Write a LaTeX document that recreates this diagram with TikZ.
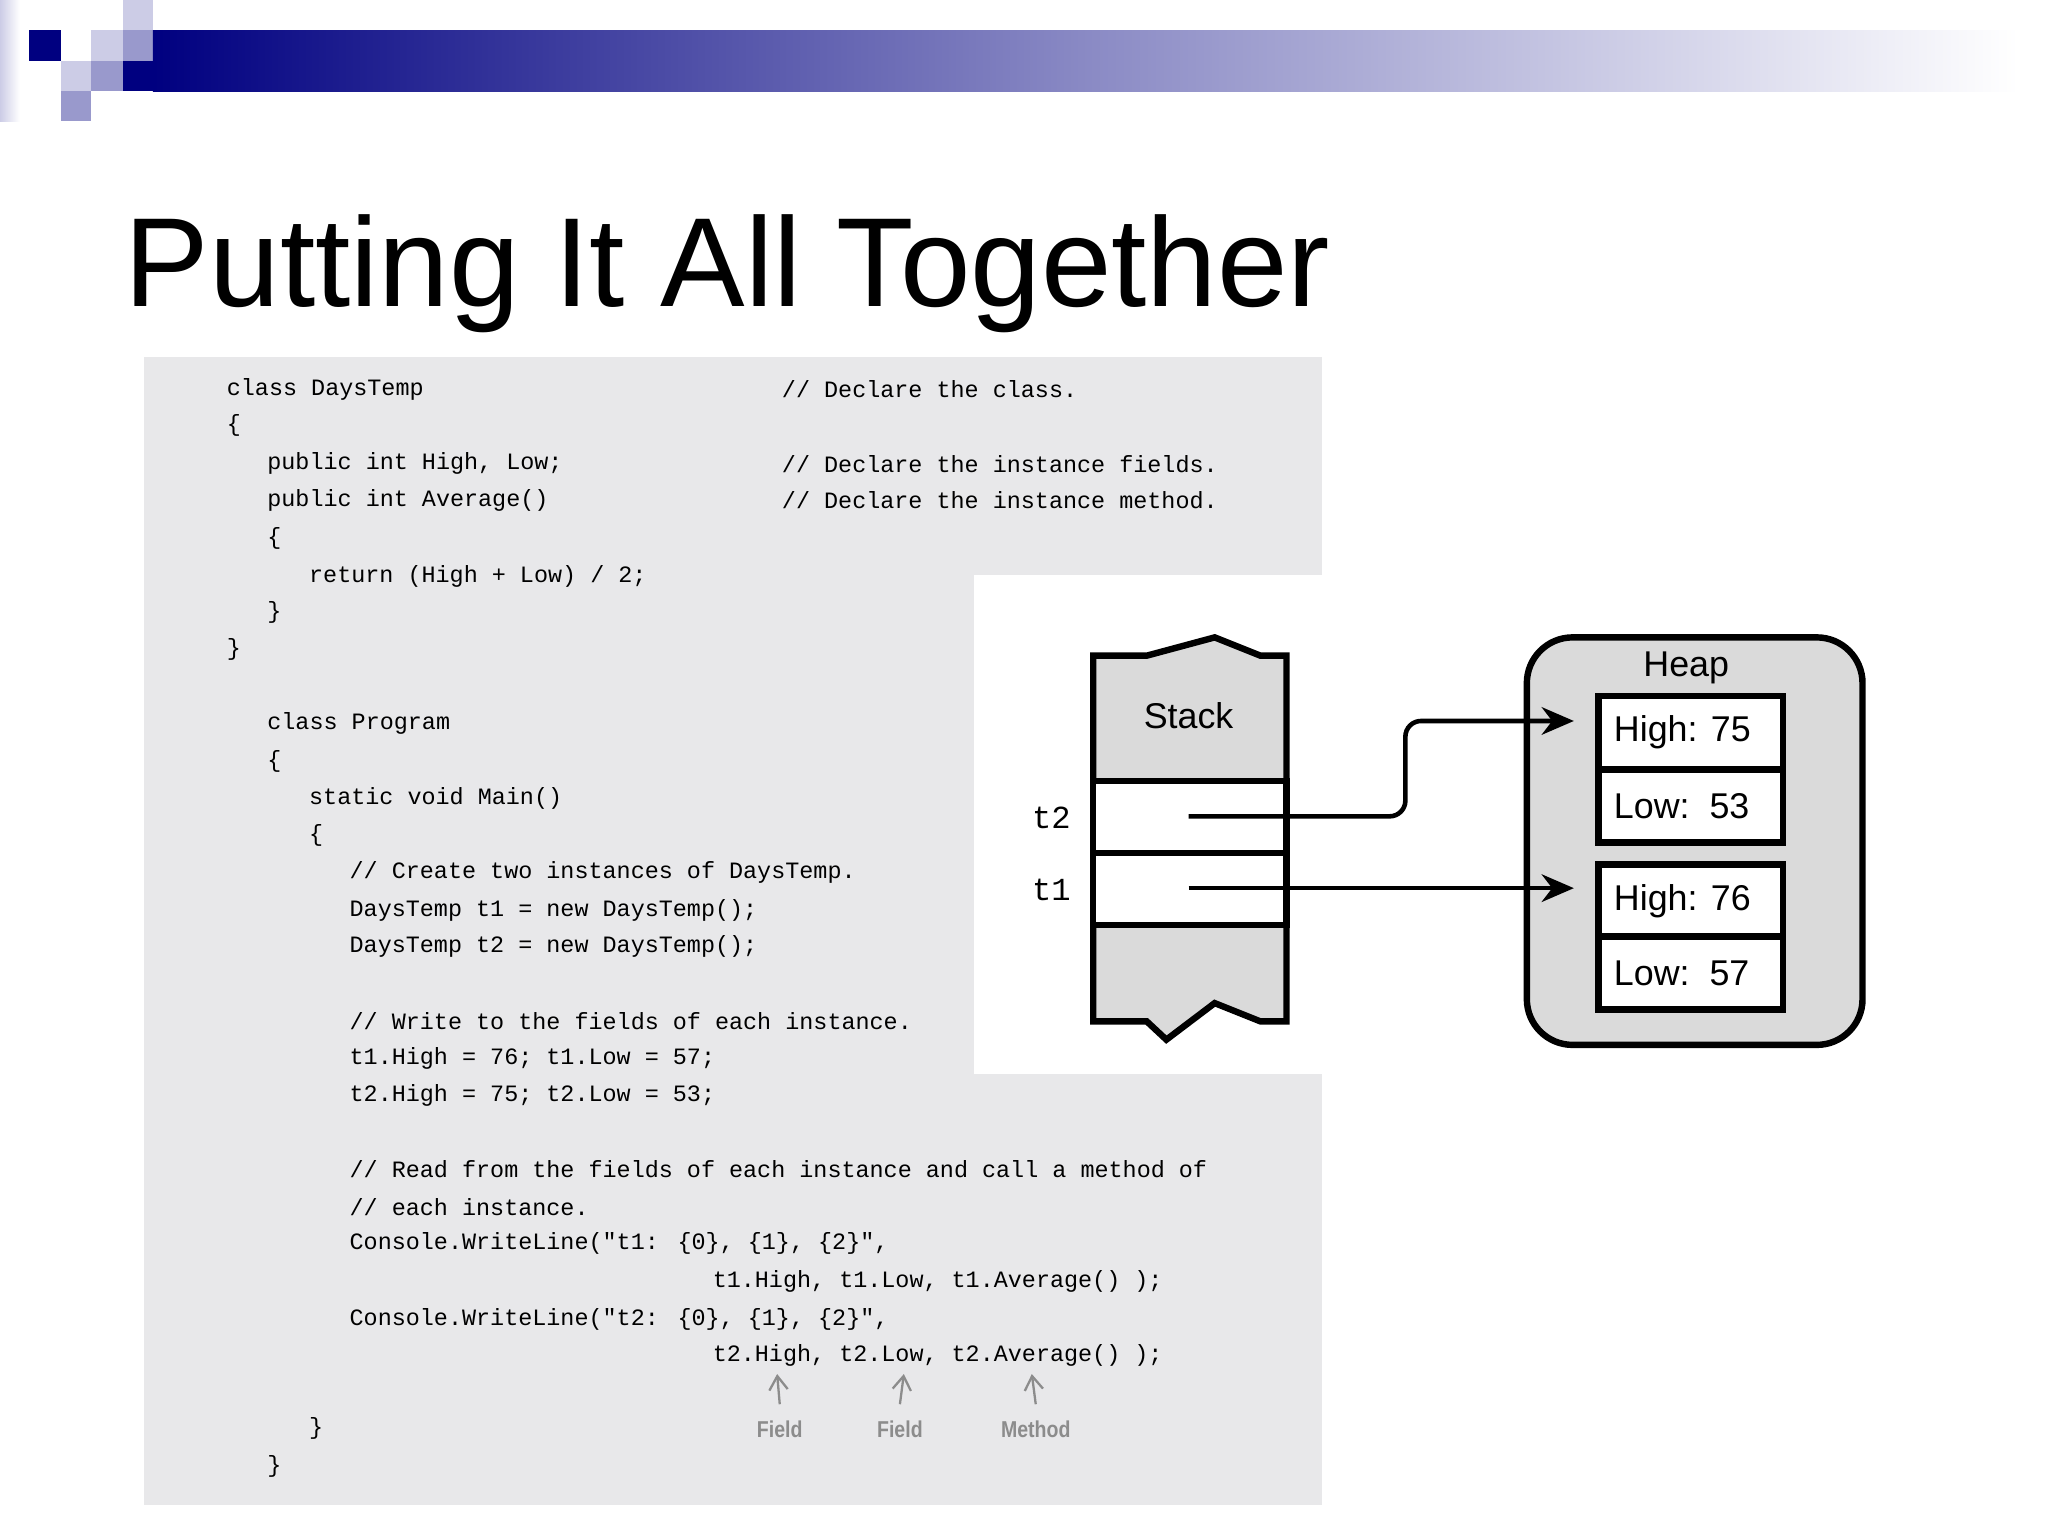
\documentclass[tikz,border=0pt]{standalone}
\usepackage{fontspec}
\setmainfont{Liberation Sans}
\newfontfamily\codefont{Liberation Mono}
\usetikzlibrary{arrows.meta}
\definecolor{navy}{RGB}{0,0,128}
\definecolor{lav}{RGB}{204,204,230}
\definecolor{lavm}{RGB}{153,153,204}
\definecolor{codebg}{RGB}{232,232,234}
\definecolor{stackgray}{RGB}{218,218,218}
\definecolor{heapgray}{RGB}{218,218,218}
\definecolor{lblgray}{RGB}{140,140,140}
\begin{document}
\begin{tikzpicture}[x=0.01cm,y=-0.01cm,
  code/.style={anchor=west,inner sep=0,font=\codefont\fontsize{5.1pt}{6pt}\selectfont},
  lbl/.style={font=\fontsize{7.8pt}{9pt}\selectfont},
  cell/.style={draw=black,line width=1.4pt},
  arr/.style={line width=1pt,-{Stealth[length=7pt,width=6pt]}},
  ann/.style={text=lblgray,font=\bfseries\fontsize{5pt}{6pt}\selectfont\addfontfeatures{FakeStretch=0.85}}]
\useasboundingbox (0,0) rectangle (1568,1176);
\fill[white] (0,0) rectangle (1568,1176);
% banner
\shade[left color=lav,right color=white] (0,0) rectangle (15,93);
\fill[navy] (22,23) rectangle (47,47);
\fill[lav] (94,0) rectangle (117,23);
\fill[lav] (70,23) rectangle (94,47);
\fill[lavm] (94,23) rectangle (117,47);
\fill[navy] (94,47) rectangle (117,70);
\fill[lav] (47,47) rectangle (70,70);
\fill[lavm] (70,47) rectangle (94,70);
\fill[lavm] (47,70) rectangle (70,93);
\shade[left color=navy,right color=white,middle color=lavm!90!navy] (117,23) rectangle (1545,70);
% title
\node[anchor=base west,inner sep=0,font=\fontsize{27.6pt}{33pt}\selectfont] (title) at (95,235) {Putting It All Together};
% code background
\fill[codebg] (110,273) rectangle (1012,1152);
\fill[white] (746,440) rectangle (1012,822);
% code
\node[code] (c1) at (173,298) {class DaysTemp};
\node[code] (k1) at (598,298) {// Declare the class.};
\node[code] (c2) at (173,326) {\{};
\node[code] (c3) at (204,355) {public int High, Low;};
\node[code] (k2) at (598,355) {// Declare the instance fields.};
\node[code] (c4) at (204,383) {public int Average()};
\node[code] (k3) at (598,383) {// Declare the instance method.};
\node[code] (c5) at (204,412) {\{};
\node[code] (c6) at (236,441) {return (High + Low) / 2;};
\node[code] (c7) at (204,469) {\}};
\node[code] (c8) at (173,497) {\}};
\node[code] (c9) at (204,554) {class Program};
\node[code] (c10) at (204,583) {\{};
\node[code] (c11) at (236,611) {static void Main()};
\node[code] (c12) at (236,640) {\{};
\node[code] (c13) at (267,668) {// Create two instances of DaysTemp.};
\node[code] (c14) at (267,697) {DaysTemp t1 = new DaysTemp();};
\node[code] (c15) at (267,725) {DaysTemp t2 = new DaysTemp();};
\node[code] (c16) at (267,782) {// Write to the fields of each instance.};
\node[code] (c17) at (267,810) {t1.High = 76; t1.Low = 57;};
\node[code] (c18) at (267,839) {t2.High = 75; t2.Low = 53;};
\node[code] (c19) at (267,895) {// Read from the fields of each instance and call a method of};
\node[code] (c20) at (267,924) {// each instance.};
\node[code] (c21) at (267,952) {Console.WriteLine("t1: \{0\}, \{1\}, \{2\}",};
\node[code] (c22) at (545,981) {t1.High, t1.Low, t1.Average() );};
\node[code] (c23) at (267,1010) {Console.WriteLine("t2: \{0\}, \{1\}, \{2\}",};
\node[code] (c24) at (545,1038) {t2.High, t2.Low, t2.Average() );};
\node[code] (c25) at (236,1094) {\}};
\node[code] (c26) at (204,1123) {\}};
% annotations
\node[ann] (f1) at (597,1094) {Field};
\node[ann] (f2) at (689,1094) {Field};
\node[ann] (m1) at (793,1094) {Method};
\coordinate (a1) at (595,1052); \coordinate (a2) at (692,1052); \coordinate (a3) at (790,1052);
\foreach \p/\q in {f1/a1,f2/a2,m1/a3}
  \draw[lblgray,line width=0.5pt,-{Straight Barb[length=3pt,width=4pt]}] (\p.north) -- (\q);
% stack
\draw[cell,fill=stackgray,line join=miter]
  (837,502) -- (878,502) -- (930,488) -- (965,502) -- (985,502) -- (985,782)
  -- (965,782) -- (930,768) -- (893,796) -- (878,782) -- (837,782) -- cycle;
\node[lbl] (stack) at (910,548) {Stack};
\draw[cell,fill=white] (837,598) rectangle (985,653);
\draw[cell,fill=white] (837,653) rectangle (985,708);
\coordinate (t2s) at (910,625);
\coordinate (t1s) at (910,680);
\node[lbl] (t2) at (805,626) {\codefont\fontsize{7pt}{8pt}\selectfont t2};
\node[lbl] (t1) at (805,681) {\codefont\fontsize{7pt}{8pt}\selectfont t1};
% heap
\draw[cell,fill=heapgray,rounded corners=0.35cm] (1169,488) rectangle (1426,800);
\node[lbl] (heap) at (1291,511) {Heap};
\draw[cell,fill=white] (1224,533) rectangle (1365,589);
\draw[cell,fill=white] (1224,589) rectangle (1365,645);
\draw[cell,fill=white] (1224,662) rectangle (1365,717);
\draw[cell,fill=white] (1224,717) rectangle (1365,773);
\node[lbl,anchor=west,inner sep=0] (h1) at (1235,561) {High: 75};
\node[lbl,anchor=west,inner sep=0] (l1) at (1235,617) {Low:\ \ 53};
\node[lbl,anchor=west,inner sep=0] (h2) at (1235,690) {High: 76};
\node[lbl,anchor=west,inner sep=0] (l2) at (1235,745) {Low:\ \ 57};
\coordinate (e2) at (1205,552);
\coordinate (e1) at (1205,680);
\draw[arr,rounded corners=0.12cm] (t2s) -- (1076,625) -- (1076,552) -- (e2);
\draw[arr] (t1s) -- (e1);
\end{tikzpicture}
\end{document}
